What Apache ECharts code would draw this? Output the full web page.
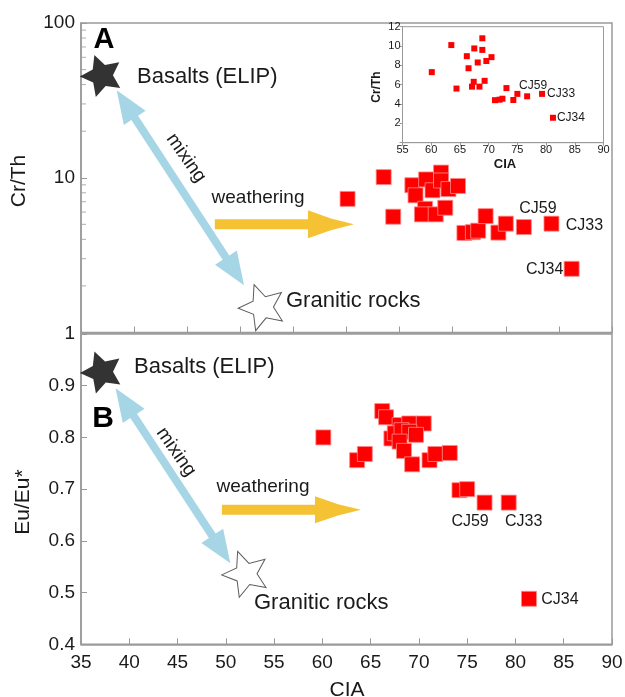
<!DOCTYPE html>
<html><head><meta charset="utf-8">
<script src="https://cdn.jsdelivr.net/npm/echarts@6/dist/echarts.min.js"></script>
<style>html,body{margin:0;padding:0;background:#fff;}#c{width:625px;height:697px;}</style>
</head><body><div id="c"></div>
<script>
// ---- Panel A: Cr/Th vs CIA (also used by the inset) ----
const crThCIA = [60.1, 63.5, 64.4, 66.2, 66.5, 67.5, 68.1, 68.9, 68.9, 69.6, 70.5, 67.4, 67.1, 68.4, 69.3, 71.1, 71.9, 72.4, 73.1, 74.3, 75.0, 76.7, 79.3, 81.2];
const crTh    = [7.3, 10.1, 5.6, 8.95, 7.7, 9.75, 8.3, 10.8, 9.6, 8.45, 8.85, 6.3, 5.8, 5.8, 6.4, 4.4, 4.45, 4.55, 5.65, 4.42, 5.05, 4.8, 5.05, 2.58];
const crThNames = ['', '', '', '', '', '', '', '', '', '', '', '', '', '', '', '', '', '', '', '', '', 'CJ59', 'CJ33', 'CJ34'];
// ---- Panel B: Eu/Eu* vs CIA ----
const euCIA = [60.1, 63.6, 64.4, 66.2, 66.6, 68.0, 69.0, 70.5, 67.15, 67.5, 68.2, 69.0, 69.7, 68.0, 68.45, 69.3, 71.1, 71.7, 73.2, 74.2, 75.0, 76.8, 79.3, 81.4];
const euEu  = [0.800, 0.756, 0.768, 0.851, 0.839, 0.824, 0.827, 0.827, 0.798, 0.808, 0.814, 0.811, 0.805, 0.792, 0.774, 0.748, 0.756, 0.768, 0.770, 0.698, 0.700, 0.674, 0.674, 0.488];
const euNames = ['', '', '', '', '', '', '', '', '', '', '', '', '', '', '', '', '', '', '', '', '', 'CJ59', 'CJ33', 'CJ34'];
// ---- End members and trend arrows [x1, y1, x2, y2] ----
const basaltA = [36.9, 47.0];
const graniteA = [52.0, 1.5];
const basaltB = [37.1, 0.93];
const graniteB = [52.0, 0.54];
const mixingA = [38.36, 36.8, 50.35, 2.02];
const weatheringA = [47.6, 5.0, 60.7, 5.0];
const mixingB = [38.58, 0.895, 50.47, 0.5565];
const weatheringB = [49.6, 0.66, 64.0, 0.66];
// ---- Axis ticks ----
const logMinorTicks = [2, 3, 4, 5, 6, 7, 8, 9, 20, 30, 40, 50, 60, 70, 80, 90];

const FONT = '"Liberation Sans", Arial, Helvetica, sans-serif';
const AX = '#9a9a9a';
const TXT = '#1a1a1a';
const RED = '#ff0000';
const BLUE = '#a6d6e6';
const YELLOW = '#f4c232';

function starPath(inner) {
  let d = '';
  for (let i = 0; i < 10; i++) {
    const r = i % 2 === 0 ? 1 : inner;
    const a = -Math.PI / 2 + i * Math.PI / 5;
    d += (i ? 'L' : 'M') + (r * Math.cos(a)).toFixed(4) + ',' + (r * Math.sin(a)).toFixed(4);
  }
  return 'path://' + d + 'Z';
}
const STAR_FAT = starPath(0.5);
const STAR_THIN = starPath(0.46);

function arrowRender(opt) {
  return function (params, api) {
    const p1 = api.coord([api.value(0), api.value(1)]);
    const p2 = api.coord([api.value(2), api.value(3)]);
    const dx = p2[0] - p1[0], dy = p2[1] - p1[1];
    const L = Math.hypot(dx, dy), ux = dx / L, uy = dy / L, nx = -uy, ny = ux;
    const w = opt.shaft / 2, hw = opt.headW / 2, hl = opt.headL, cc = opt.concave || 0;
    const P = (from, along, across) => [from[0] + ux * along + nx * across, from[1] + uy * along + ny * across];
    const pts = [];
    if (opt.double) {
      pts.push(p1, P(p1, hl, hw), P(p1, hl, w));
    } else {
      pts.push(P(p1, 0, w));
    }
    pts.push(P(p2, -hl, w), P(p2, -hl, hw));
    if (cc) pts.push(P(p2, -hl * 0.5, hw * (0.5 - cc)));
    pts.push(p2);
    if (cc) pts.push(P(p2, -hl * 0.5, -hw * (0.5 - cc)));
    pts.push(P(p2, -hl, -hw), P(p2, -hl, -w));
    if (opt.double) {
      pts.push(P(p1, hl, -w), P(p1, hl, -hw));
    } else {
      pts.push(P(p1, 0, -w));
    }
    return { type: 'polygon', shape: { points: pts }, style: { fill: opt.color } };
  };
}

function points(xs, ys, names, offsets, fontSize) {
  return xs.map((x, i) => {
    const item = { value: [x, ys[i]] };
    const n = names[i];
    if (n) {
      item.label = { show: true, formatter: n, position: 'inside', offset: offsets[n],
        fontSize: fontSize, color: TXT, fontFamily: FONT, textBorderWidth: 0 };
    }
    return item;
  });
}

const offA = { CJ59: [14, -18], CJ33: [33, 1.5], CJ34: [-27, 0.7] };
const offInset = { CJ59: [6, -11], CJ33: [19, -0.5], CJ34: [18, 0] };
const offB = { CJ59: [-14.5, 19], CJ33: [15, 19], CJ34: [31, 1.3] };

const tickStyle = { show: true, inside: true, length: 6, lineStyle: { color: AX, width: 1 } };
const lineStyle = { show: true, lineStyle: { color: AX, width: 1.5 } };
const labelBase = { color: TXT, fontFamily: FONT, fontSize: 19 };

const chart = echarts.init(document.getElementById('c'), null, { renderer: 'canvas' });
chart.setOption({
  animation: false,
  backgroundColor: '#fff',
  textStyle: { fontFamily: FONT },
  grid: [
    { left: 81, top: 23, width: 531, height: 309.5, show: true, borderColor: AX, borderWidth: 1.5, backgroundColor: 'transparent', containLabel: false, outerBoundsMode: 'none' },
    { left: 81, top: 334, width: 531, height: 310.3, show: true, borderColor: AX, borderWidth: 1.5, backgroundColor: 'transparent', containLabel: false, outerBoundsMode: 'none' },
    { left: 402.5, top: 26.7, width: 201, height: 116, show: true, borderColor: AX, borderWidth: 1, backgroundColor: '#fff', containLabel: false, outerBoundsMode: 'none', z: 3 }
  ],
  xAxis: [
    { type: 'value', gridIndex: 0, min: 35, max: 85, interval: 5, axisLine: lineStyle, axisTick: tickStyle,
      axisLabel: { show: false }, splitLine: { show: false } },
    { type: 'value', gridIndex: 1, min: 35, max: 90, interval: 5, axisLine: lineStyle, axisTick: tickStyle,
      axisLabel: Object.assign({ margin: 9, showMinLabel: true, showMaxLabel: true, hideOverlap: false }, labelBase), splitLine: { show: false } },
    { type: 'value', gridIndex: 2, min: 55, max: 90, interval: 5, z: 4,
      axisLine: { show: true, lineStyle: { color: AX, width: 1 } },
      axisTick: { show: true, inside: false, length: 3, lineStyle: { color: AX } },
      axisLabel: { margin: 2, color: TXT, fontFamily: FONT, fontSize: 11, showMinLabel: true, showMaxLabel: true, hideOverlap: false },
      splitLine: { show: false } }
  ],
  yAxis: [
    { type: 'log', logBase: 10, gridIndex: 0, min: 1, max: 100, axisLine: lineStyle, axisTick: tickStyle,
      axisLabel: Object.assign({ margin: 6, showMinLabel: true, showMaxLabel: true, hideOverlap: false,
        formatter: v => (v === 1 ? '' : String(Math.round(v))) }, labelBase),
      splitLine: { show: false }, minorTick: { show: false } },
    { type: 'value', gridIndex: 1, min: 0.4, max: 1, interval: 0.1, axisLine: lineStyle, axisTick: tickStyle,
      axisLabel: Object.assign({ margin: 6, showMinLabel: true, showMaxLabel: true, hideOverlap: false,
        formatter: v => (Math.abs(v - 1) < 1e-9 ? '1' : v.toFixed(1)) }, labelBase),
      splitLine: { show: false } },
    { type: 'value', gridIndex: 2, min: 0, max: 12, interval: 2, z: 4,
      axisLine: { show: true, lineStyle: { color: AX, width: 1 } },
      axisTick: { show: true, inside: false, length: 3, lineStyle: { color: AX } },
      axisLabel: { margin: 2, color: TXT, fontFamily: FONT, fontSize: 11, showMaxLabel: true, hideOverlap: false,
        formatter: v => (v === 0 ? '' : String(v)) },
      splitLine: { show: false } }
  ],
  series: [
    { type: 'custom', xAxisIndex: 0, yAxisIndex: 0, silent: true, z: 1, data: [mixingA], encode: { x: [0, 2], y: [1, 3] },
      renderItem: arrowRender({ double: true, shaft: 8, headW: 26, headL: 33, color: BLUE }) },
    { type: 'custom', xAxisIndex: 0, yAxisIndex: 0, silent: true, z: 1, data: [weatheringA], encode: { x: [0, 2], y: [1, 3] },
      renderItem: arrowRender({ double: false, shaft: 10, headW: 28, headL: 46, color: YELLOW, concave: 0.08 }) },
    { type: 'custom', xAxisIndex: 1, yAxisIndex: 1, silent: true, z: 1, data: [mixingB], encode: { x: [0, 2], y: [1, 3] },
      renderItem: arrowRender({ double: true, shaft: 8, headW: 26, headL: 33, color: BLUE }) },
    { type: 'custom', xAxisIndex: 1, yAxisIndex: 1, silent: true, z: 1, data: [weatheringB], encode: { x: [0, 2], y: [1, 3] },
      renderItem: arrowRender({ double: false, shaft: 10, headW: 27, headL: 46, color: YELLOW, concave: 0.08 }) },
    { type: 'scatter', xAxisIndex: 0, yAxisIndex: 0, silent: true, clip: false, symbol: STAR_FAT, symbolKeepAspect: true, symbolSize: 42, symbolRotate: 20,
      itemStyle: { color: '#000' }, data: [basaltA] },
    { type: 'scatter', xAxisIndex: 0, yAxisIndex: 0, silent: true, clip: false, symbol: STAR_THIN, symbolKeepAspect: true, symbolSize: 46, symbolRotate: 20,
      itemStyle: { color: '#fff', borderColor: '#333', borderWidth: 1 }, data: [graniteA] },
    { type: 'scatter', xAxisIndex: 1, yAxisIndex: 1, silent: true, clip: false, symbol: STAR_FAT, symbolKeepAspect: true, symbolSize: 42, symbolRotate: 20,
      itemStyle: { color: '#000' }, data: [basaltB] },
    { type: 'scatter', xAxisIndex: 1, yAxisIndex: 1, silent: true, clip: false, symbol: STAR_THIN, symbolKeepAspect: true, symbolSize: 46, symbolRotate: 20,
      itemStyle: { color: '#fff', borderColor: '#333', borderWidth: 1 }, data: [graniteB] },
    { type: 'scatter', xAxisIndex: 0, yAxisIndex: 0, silent: true, symbol: 'rect', symbolSize: 15, z: 3,
      itemStyle: { color: RED, borderColor: '#ff8a8a', borderWidth: 0.8, opacity: 1 },
      data: points(crThCIA, crTh, crThNames, offA, 16) },
    { type: 'scatter', xAxisIndex: 1, yAxisIndex: 1, silent: true, symbol: 'rect', symbolSize: 15, z: 3,
      itemStyle: { color: RED, borderColor: '#ff8a8a', borderWidth: 0.8, opacity: 1 },
      data: points(euCIA, euEu, euNames, offB, 16) },
    { type: 'scatter', xAxisIndex: 2, yAxisIndex: 2, silent: true, symbol: 'rect', symbolSize: 6, z: 5,
      itemStyle: { color: RED, opacity: 1 },
      data: points(crThCIA, crTh, crThNames, offInset, 12) },
    { type: 'scatter', xAxisIndex: 0, yAxisIndex: 0, silent: true, clip: false, symbol: 'rect', symbolSize: [5, 1], symbolOffset: [2.5, 0], z: 2,
      itemStyle: { color: AX }, data: logMinorTicks.map(v => [35, v]) }
  ],
  graphic: [
    { type: 'text', x: 104, y: 40, z: 10, style: { text: 'A', font: 'bold 29px ' + FONT, fill: '#000', align: 'center', verticalAlign: 'middle' } },
    { type: 'text', x: 103, y: 419, z: 10, style: { text: 'B', font: 'bold 30px ' + FONT, fill: '#000', align: 'center', verticalAlign: 'middle' } },
    { type: 'text', x: 137, y: 77, z: 10, style: { text: 'Basalts (ELIP)', font: '22px ' + FONT, fill: TXT, align: 'left', verticalAlign: 'middle' } },
    { type: 'text', x: 134, y: 367, z: 10, style: { text: 'Basalts (ELIP)', font: '22px ' + FONT, fill: TXT, align: 'left', verticalAlign: 'middle' } },
    { type: 'text', x: 286, y: 301, z: 10, style: { text: 'Granitic rocks', font: '22px ' + FONT, fill: TXT, align: 'left', verticalAlign: 'middle' } },
    { type: 'text', x: 254, y: 603, z: 10, style: { text: 'Granitic rocks', font: '22px ' + FONT, fill: TXT, align: 'left', verticalAlign: 'middle' } },
    { type: 'text', x: 258, y: 198, z: 10, style: { text: 'weathering', font: '19px ' + FONT, fill: TXT, align: 'center', verticalAlign: 'middle' } },
    { type: 'text', x: 263, y: 487, z: 10, style: { text: 'weathering', font: '19px ' + FONT, fill: TXT, align: 'center', verticalAlign: 'middle' } },
    { type: 'text', x: 186, y: 158, rotation: -55 * Math.PI / 180, z: 10, style: { text: 'mixing', font: '19px ' + FONT, fill: TXT, align: 'center', verticalAlign: 'middle' } },
    { type: 'text', x: 176, y: 452, rotation: -55 * Math.PI / 180, z: 10, style: { text: 'mixing', font: '19px ' + FONT, fill: TXT, align: 'center', verticalAlign: 'middle' } },
    { type: 'text', x: 19, y: 181, rotation: Math.PI / 2, z: 10, style: { text: 'Cr/Th', font: '21px ' + FONT, fill: TXT, align: 'center', verticalAlign: 'middle' } },
    { type: 'text', x: 23, y: 502, rotation: Math.PI / 2, z: 10, style: { text: 'Eu/Eu*', font: '21px ' + FONT, fill: TXT, align: 'center', verticalAlign: 'middle' } },
    { type: 'text', x: 347, y: 690, z: 10, style: { text: 'CIA', font: '21px ' + FONT, fill: TXT, align: 'center', verticalAlign: 'middle' } },
    { type: 'text', x: 377, y: 87, rotation: Math.PI / 2, z: 10, style: { text: 'Cr/Th', font: 'bold 12px ' + FONT, fill: TXT, align: 'center', verticalAlign: 'middle' } },
    { type: 'text', x: 505, y: 164, z: 10, style: { text: 'CIA', font: 'bold 13px ' + FONT, fill: TXT, align: 'center', verticalAlign: 'middle' } }
  ]
});
</script>
</body></html>
